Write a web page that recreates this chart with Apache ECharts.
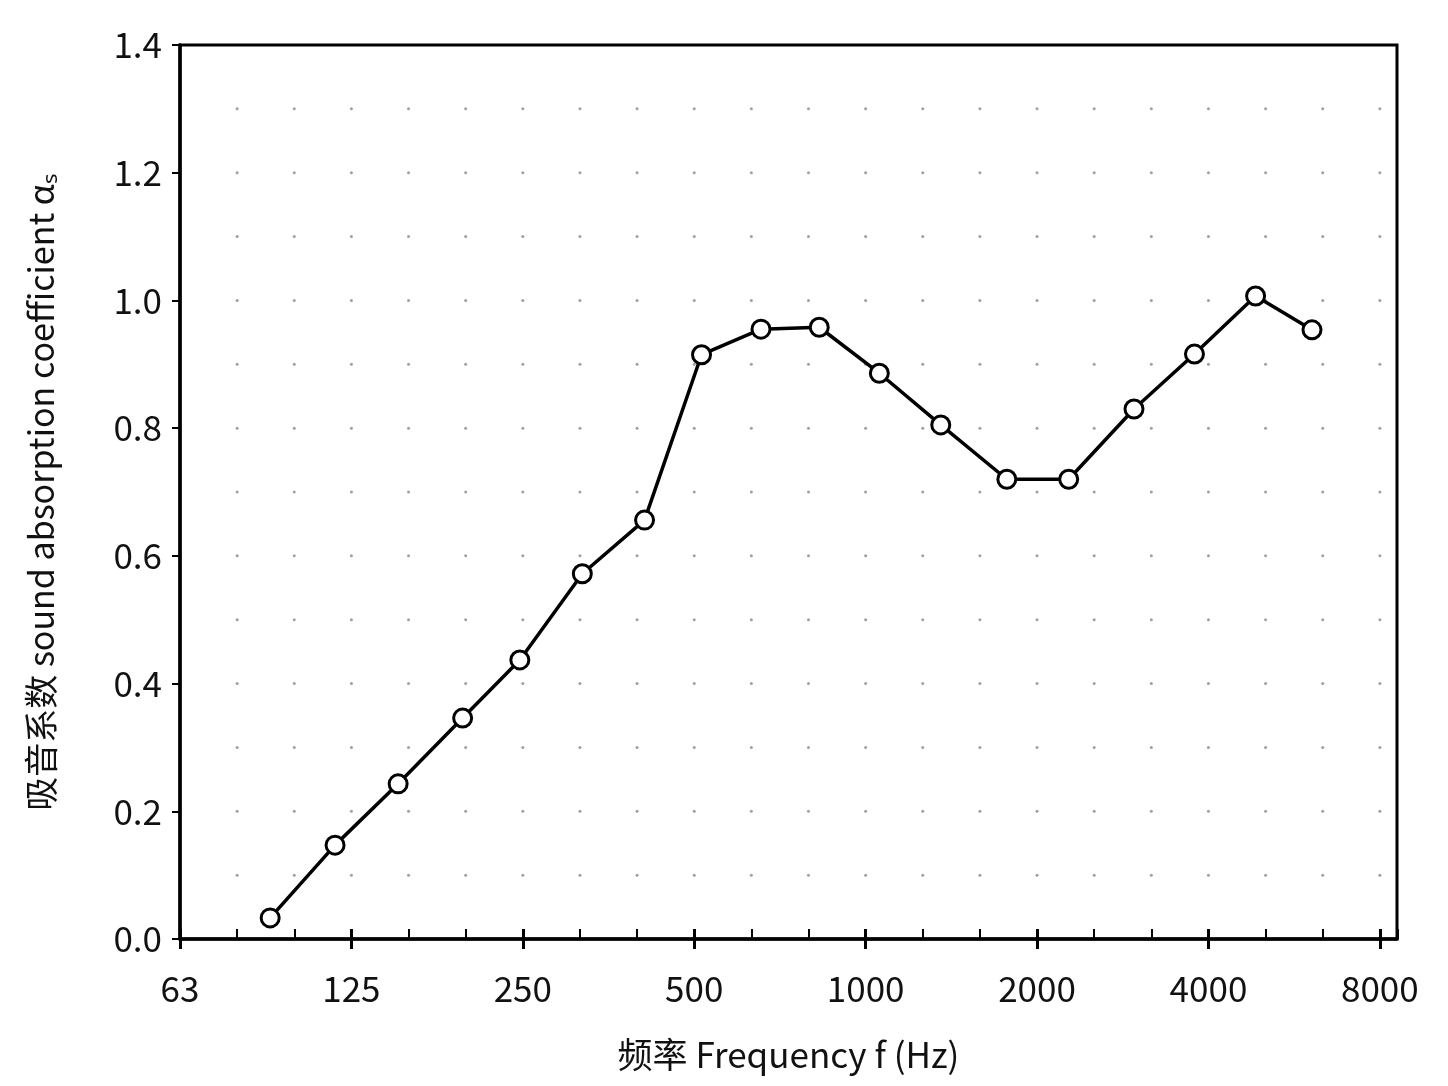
<!DOCTYPE html>
<html><head><meta charset="utf-8">
<script src="https://cdn.jsdelivr.net/npm/echarts@6/dist/echarts.min.js"></script>
<style>html,body{margin:0;background:#fff}#c{width:1448px;height:1086px}</style></head>
<body><div id="c"></div>
<script>
const freqLabels = ['63','125','250','500','1000','2000','4000','8000'];
const frequencies = [90,117,151,196,247,318,409,515,655,829,1057,1355,1770,2273,2960,3780,4840,6080];
const alpha = [0.033,0.147,0.243,0.346,0.437,0.572,0.656,0.915,0.955,0.958,0.886,0.805,0.720,0.720,0.830,0.916,1.007,0.954];
const yTicks = [0,0.2,0.4,0.6,0.8,1.0,1.2,1.4];
const base = 62.5;
const oct = f => Math.log2(f / base);
const pts = frequencies.map((f, i) => [oct(f), alpha[i]]);
const dots = [];
for (let i = 1; i <= 21; i++) for (let j = 1; j <= 13; j++) dots.push([i / 3, j / 10]);
const font = '"Noto Sans CJK SC","Noto Sans",sans-serif';
const chart = echarts.init(document.getElementById('c'));
chart.setOption({
  animation: false,
  grid: {left: 180, top: 45, right: 51, bottom: 147, show: true, borderColor: '#000', borderWidth: 3},
  xAxis: [{
    type: 'value', min: 0, max: 7.1, interval: 1,
    axisLine: {lineStyle: {color: '#000', width: 3.5}},
    axisTick: {show: true, length: 10, lineStyle: {color: '#000', width: 3}},
    axisLabel: {fontSize: 35, color: '#111', fontFamily: font, margin: 32, showMaxLabel: false,
      formatter: v => freqLabels[Math.round(v)] || ''},
    splitLine: {show: false},
    name: '频率 Frequency f (Hz)', nameLocation: 'middle', nameGap: 98,
    nameTextStyle: {fontSize: 35, color: '#111', fontFamily: font}
  }, {
    type: 'value', min: 0, max: 7.1, interval: 1, position: 'bottom',
    axisLine: {show: false}, axisLabel: {show: false}, splitLine: {show: false},
    axisTick: {show: true, inside: true, length: 10, lineStyle: {color: '#000', width: 3}},
    minorTick: {show: true, splitNumber: 3, length: 10, lineStyle: {color: '#000', width: 2}}
  }],
  yAxis: {
    type: 'value', min: 0, max: 1.4, interval: 0.2,
    axisLine: {show: true, lineStyle: {color: '#000', width: 3.5}},
    axisTick: {show: true, length: 8, lineStyle: {color: '#000', width: 2}},
    axisLabel: {fontSize: 35, color: '#111', fontFamily: font, margin: 18,
      formatter: v => yTicks.find(t => Math.abs(t - v) < 1e-6).toFixed(1)},
    splitLine: {show: false},
    name: '吸音系数 sound absorption coefficient αₛ', nameLocation: 'middle', nameGap: 122,
    nameTextStyle: {fontSize: 34, color: '#111', fontFamily: font}
  },
  series: [{
    type: 'scatter', data: dots, symbolSize: 3, silent: true,
    itemStyle: {color: '#888'}
  }, {
    type: 'line', data: pts, symbol: 'circle', symbolSize: 18,
    lineStyle: {color: '#000', width: 3.5},
    itemStyle: {color: '#fff', borderColor: '#000', borderWidth: 3}
  }]
});
</script></body></html>
